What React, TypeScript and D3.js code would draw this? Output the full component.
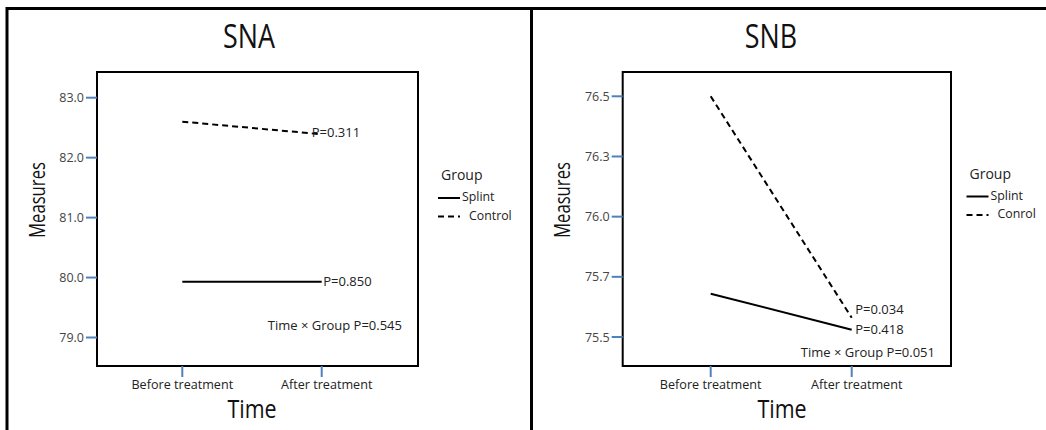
import * as d3 from 'd3';

const times = ['Before treatment', 'After treatment'];

const snaSplint = [79.93, 79.93];
const snaControl = [82.6, 82.39];
const snbSplint = [75.68, 75.53];
const snbControl = [76.5, 75.58];

const snaTicks = [79, 80, 81, 82, 83];
const snaTickLabels = ['79.0', '80.0', '81.0', '82.0', '83.0'];
const snbTicks = [75.5, 75.75, 76, 76.25, 76.5];
const snbTickLabels = ['75.5', '75.7', '76.0', '76.3', '76.5'];

const snaLegend = ['Splint', 'Control'];
const snbLegend = ['Splint', 'Conrol'];

const snaP = ['P=0.850', 'P=0.311'];
const snbP = ['P=0.418', 'P=0.034'];
const snaInteraction = 'Time × Group P=0.545';
const snbInteraction = 'Time × Group P=0.051';

const W = 1046, H = 430;
const FONT = "'Open Sans', 'Noto Sans', sans-serif";
const BLUE = '#4f81bd';

// text with optional horizontal squeeze (reference uses a condensed face)
function T(props: { x: number; y: number; sx?: number; rot?: number; size: number; anchor?: string; fill?: string; children: any }) {
  const { x, y, sx = 1, rot = 0, size, anchor = 'start', fill = '#222' } = props;
  return (
    <text transform={`translate(${x},${y}) rotate(${rot}) scale(${sx},1)`} textAnchor={anchor}
      fontFamily={FONT} fontSize={size} fill={fill}>{props.children}</text>
  );
}

type PanelProps = {
  title: string;
  splint: number[];
  control: number[];
  ticks: number[];
  tickLabels: string[];
  legend: string[];
  pLabels: string[];
  interaction: string;
  box: { l: number; r: number; t: number; b: number };
  xr: [number, number];
  yd: [number, number];
  yr: [number, number];
  pOff: [number, number][];
  titleX: number;
  timeX: number;
  measX: number;
  legX: number;
  legY: number;
};

function Panel(p: PanelProps) {
  const x = d3.scalePoint<string>().domain(times).range(p.xr);
  const y = d3.scaleLinear().domain(p.yd).range(p.yr);
  const line = d3.line<number>().x((_, i) => x(times[i])!).y(d => y(d));
  const { l, r, t, b } = p.box;
  const series = [p.splint, p.control];

  return (
    <g>
      <T x={p.titleX} y={48} size={32} sx={0.84} anchor="middle" fill="#111">{p.title}</T>
      <rect x={l} y={t} width={r - l} height={b - t} fill="none" stroke="#000" strokeWidth={2} />

      {p.ticks.map((v, i) => (
        <g key={v}>
          <line x1={l - 11} x2={l} y1={y(v)} y2={y(v)} stroke={BLUE} strokeWidth={2} />
          <T x={l - 13} y={y(v) + 4.5} size={12.5} anchor="end" fill="#444">{p.tickLabels[i]}</T>
        </g>
      ))}
      {times.map(c => (
        <g key={c}>
          <line x1={x(c)} x2={x(c)} y1={b} y2={b + 11} stroke={BLUE} strokeWidth={2} />
          <T x={x(c)! + (c === times[1] ? 5 : 0)} y={389} size={13} sx={0.97} anchor="middle">{c}</T>
        </g>
      ))}
      <T x={p.timeX} y={418} size={25} sx={0.86} anchor="middle" fill="#111">Time</T>
      <T x={p.measX} y={200} rot={-90} size={22} sx={0.76} anchor="middle" fill="#111">Measures</T>

      <path d={line(p.splint)!} fill="none" stroke="#000" strokeWidth={2} />
      <path d={line(p.control)!} fill="none" stroke="#000" strokeWidth={2} strokeDasharray="6,4" />

      {series.map((s, i) => (
        <T key={i} x={x(times[1])! + p.pOff[i][0]} y={y(s[1]) + p.pOff[i][1]} size={13}>{p.pLabels[i]}</T>
      ))}
      <T x={r - 16} y={p.pOff[2][1]} size={13} anchor="end">{p.interaction}</T>

      <T x={p.legX + 3} y={p.legY} size={14}>Group</T>
      {p.legend.map((g, i) => {
        const ly = p.legY + 21 + i * 18.5;
        return (
          <g key={g}>
            <line x1={p.legX} x2={p.legX + 22} y1={ly - 3} y2={ly - 3} stroke="#000" strokeWidth={2}
              strokeDasharray={i === 1 ? '6,4' : undefined} />
            <T x={p.legX + (i === 1 ? 31 : 24)} y={ly} size={13} sx={0.95}>{g}</T>
          </g>
        );
      })}
    </g>
  );
}

export default function App() {
  return (
    <svg width={W} height={H} style={{ position: 'absolute', left: 0, top: 0, background: '#fff' }}>
      <path d={`M7,${H} V8.5 H${W} M531.5,8.5 V${H}`} fill="none" stroke="#000" strokeWidth={3} />
      <Panel
        title="SNA" splint={snaSplint} control={snaControl}
        ticks={snaTicks} tickLabels={snaTickLabels} legend={snaLegend}
        pLabels={snaP} interaction={snaInteraction}
        box={{ l: 97, r: 418, t: 72, b: 366 }}
        xr={[182.3, 321.7]} yd={[79, 83]} yr={[337.5, 97.7]}
        pOff={[[1.5, 4.5], [-10, 3], [0, 330]]}
        titleX={249} timeX={252} measX={45} legX={438} legY={180}
      />
      <Panel
        title="SNB" splint={snbSplint} control={snbControl}
        ticks={snbTicks} tickLabels={snbTickLabels} legend={snbLegend}
        pLabels={snbP} interaction={snbInteraction}
        box={{ l: 622.7, r: 951, t: 72, b: 366 }}
        xr={[710.7, 851.7]} yd={[75.5, 76.5]} yr={[337, 96.3]}
        pOff={[[3.5, 4.5], [3.5, -3.5], [0, 356.7]]}
        titleX={771} timeX={782} measX={570} legX={966.5} legY={178.5}
      />
    </svg>
  );
}
